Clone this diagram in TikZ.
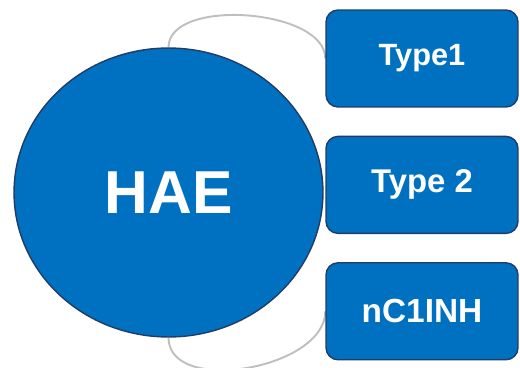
\documentclass[tikz,border=0pt]{standalone}
\usepackage{fontspec}
\setmainfont{Liberation Sans}
\usepackage{xcolor}
\usetikzlibrary{shapes.geometric, positioning, backgrounds}
\definecolor{haeblue}{HTML}{0070C0}
\definecolor{haeedge}{HTML}{1F3D66}
\definecolor{linkgray}{HTML}{BFBFBF}

\begin{document}
\begin{tikzpicture}[
    x=0.02cm, y=-0.02cm,
    node distance=0.56cm,
    hub/.style={ellipse, draw=haeedge, fill=haeblue, line width=0.8pt, minimum width=6.18cm, minimum height=5.78cm, text=white, font=\fontsize{34.5}{40}\selectfont\bfseries},
    typebox/.style={rectangle, draw=haeedge, fill=haeblue, line width=0.8pt, rounded corners=0.24cm, minimum width=3.84cm, minimum height=1.94cm, text=white, font=\fontsize{17.5}{21}\selectfont\bfseries},
    link/.style={draw=linkgray, line width=1.1pt}
]
\useasboundingbox (0,0) rectangle (520,368);
\node[hub] (hae) at (168.5,192.5) {HAE};
\node[typebox] (t1) at (422,58.5) {Type1};
\node[typebox, below=of t1, font=\fontsize{18.7}{22}\selectfont\bfseries] (t2) {Type 2};
\node[typebox, below=of t2, font=\fontsize{19}{22}\selectfont\bfseries] (inh) {nC1INH};
% gray arcs behind the shapes
\begin{scope}[on background layer]
\draw[link] (hae.north) .. controls +(0,-50) and +(0,-50) .. (t1.west);
\draw[link] (hae.south) .. controls +(0,58) and +(0,58) .. (inh.west);
\end{scope}
\end{tikzpicture}
\end{document}
